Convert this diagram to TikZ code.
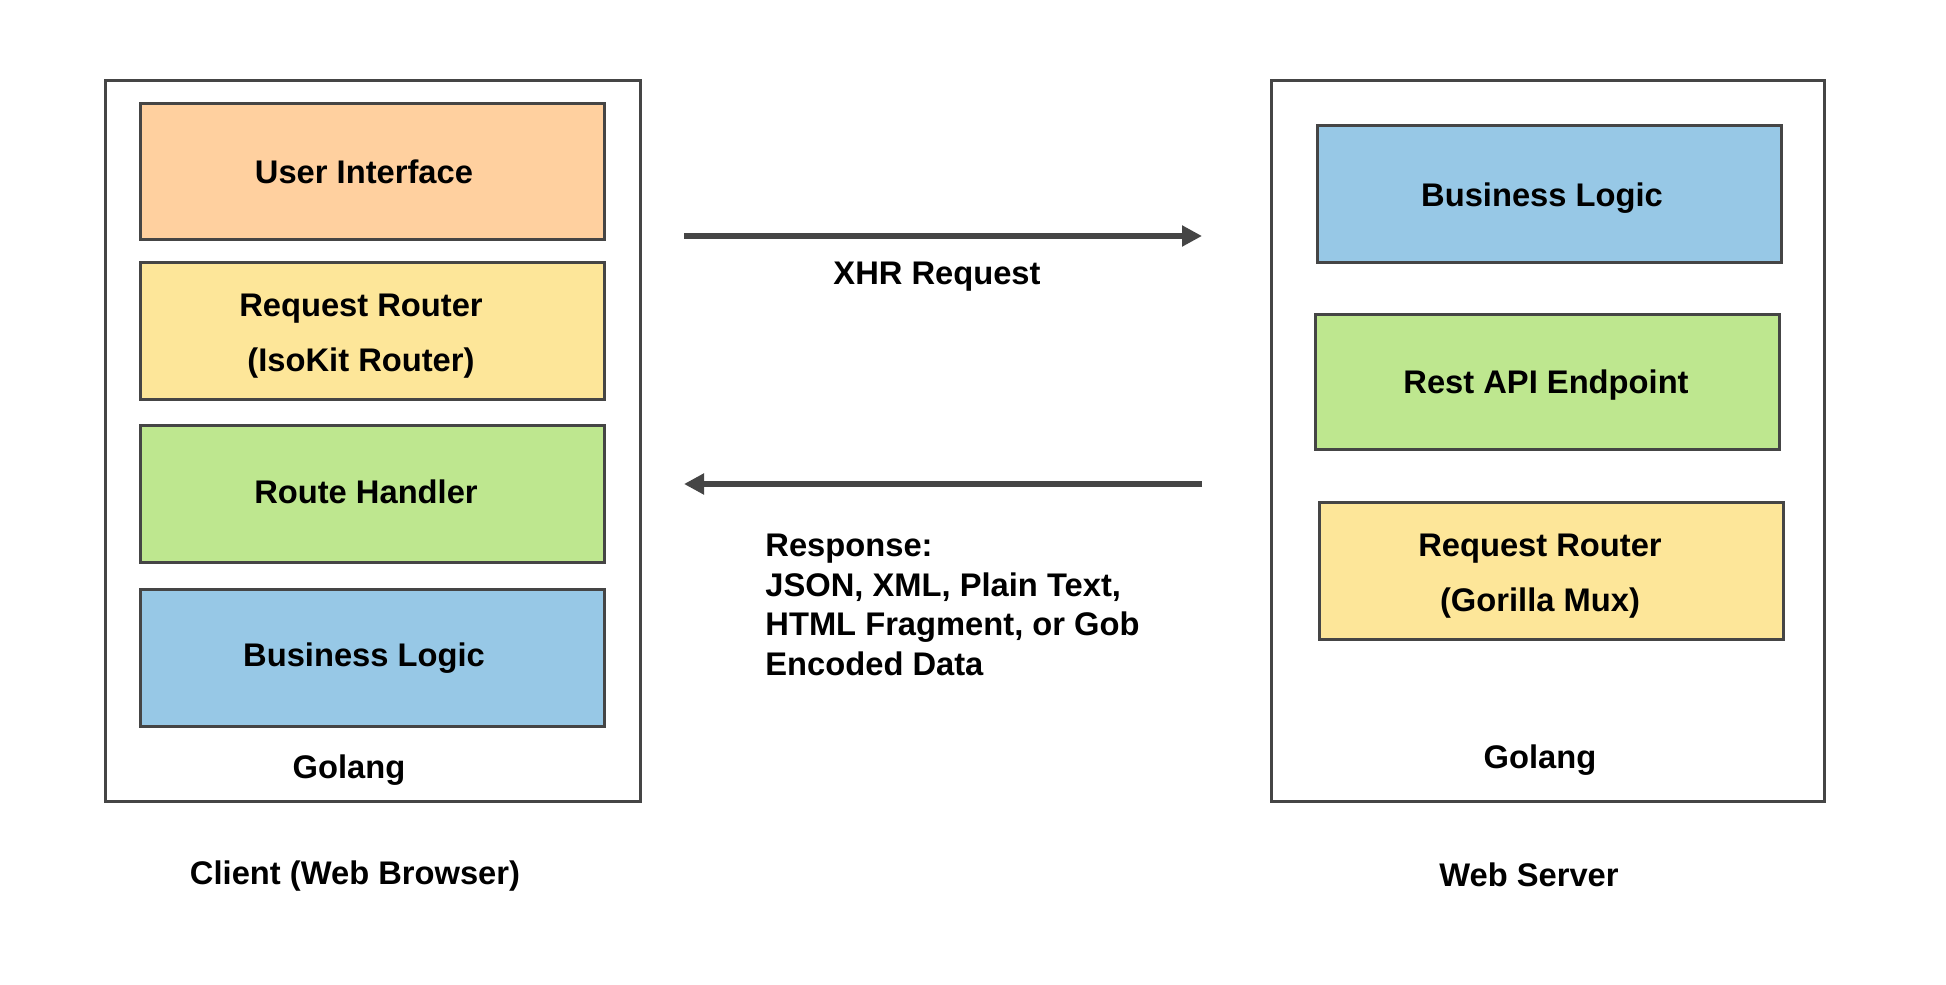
\documentclass[tikz,border=0pt]{standalone}
\usepackage{fontspec}
\setmainfont{Liberation Sans}
\usetikzlibrary{arrows.meta}
\definecolor{edge}{HTML}{454545}
\definecolor{cOrange}{HTML}{FFD09F}
\definecolor{cYellow}{HTML}{FDE699}
\definecolor{cGreen}{HTML}{BEE78F}
\definecolor{cBlue}{HTML}{97C8E6}
\tikzset{
  outerbox/.style={draw=edge, line width=1.5pt, fill=white, rectangle, inner sep=0pt},
  layer/.style={draw=edge, line width=1.5pt, rectangle, inner sep=0pt},
  lbl/.style={font=\fontsize{16.35pt}{27.5pt}\selectfont\bfseries, text=black, inner sep=0pt, align=center},
  flow/.style={draw=edge, line width=2.6pt, -{Triangle[length=10pt,width=10pt]}}
}
\begin{document}
\begin{tikzpicture}[x=0.5pt, y=-0.5pt]
\useasboundingbox (0,0) rectangle (1946,984);
% outer containers
\node[outerbox, minimum width=267.5pt, minimum height=360.5pt, anchor=north west] (client) at (104,79) {};
\node[outerbox, minimum width=276.5pt, minimum height=360.5pt, anchor=north west] (server) at (1270,79) {};
% client layers
\node[layer, fill=cOrange, minimum width=232pt, minimum height=68pt, anchor=north west] (ui) at (139,102) {};
\node[layer, fill=cYellow, minimum width=232pt, minimum height=68.5pt, anchor=north west] (rr) at (139,261) {};
\node[layer, fill=cGreen, minimum width=232pt, minimum height=68.5pt, anchor=north west] (rh) at (139,424) {};
\node[layer, fill=cBlue, minimum width=232pt, minimum height=68.5pt, anchor=north west] (bl) at (139,588) {};
\node[lbl] (uiT) at (364,171.5) {User Interface};
\node[lbl] (rrT) at (361,336.5) {Request Router\\(IsoKit Router)};
\node[lbl] (rhT) at (366,492) {Route Handler};
\node[lbl] (blT) at (364,658) {Business Logic};
\node[lbl] (golangL) at (349,770) {Golang};
\node[lbl] (clientT) at (355,876) {Client (Web Browser)};
% server layers
\node[layer, fill=cBlue, minimum width=232pt, minimum height=68.5pt, anchor=north west] (sbl) at (1316,124) {};
\node[layer, fill=cGreen, minimum width=232pt, minimum height=67.5pt, anchor=north west] (api) at (1314,313) {};
\node[layer, fill=cYellow, minimum width=232pt, minimum height=68.5pt, anchor=north west] (srr) at (1318,501) {};
\node[lbl] (sblT) at (1542,198) {Business Logic};
\node[lbl] (apiT) at (1546,385) {Rest API Endpoint};
\node[lbl] (srrT) at (1540,576) {Request Router\\(Gorilla Mux)};
\node[lbl] (golangR) at (1540,760) {Golang};
\node[lbl] (serverT) at (1529,875) {Web Server};
% connectors
\coordinate (reqS) at (684,236);
\coordinate (reqE) at (1202,236);
\coordinate (resS) at (1202,484);
\coordinate (resE) at (684,484);
\draw[flow] (reqS) -- (reqE);
\draw[flow] (resS) -- (resE);
\node[lbl] (xhr) at (937,277) {XHR Request};
\node[font=\fontsize{16.35pt}{19.75pt}\selectfont\bfseries, inner sep=0pt, align=left, anchor=west] (resp) at (765,605) {Response:\\JSON, XML, Plain Text,\\HTML Fragment, or Gob\\Encoded Data};
\end{tikzpicture}
\end{document}
